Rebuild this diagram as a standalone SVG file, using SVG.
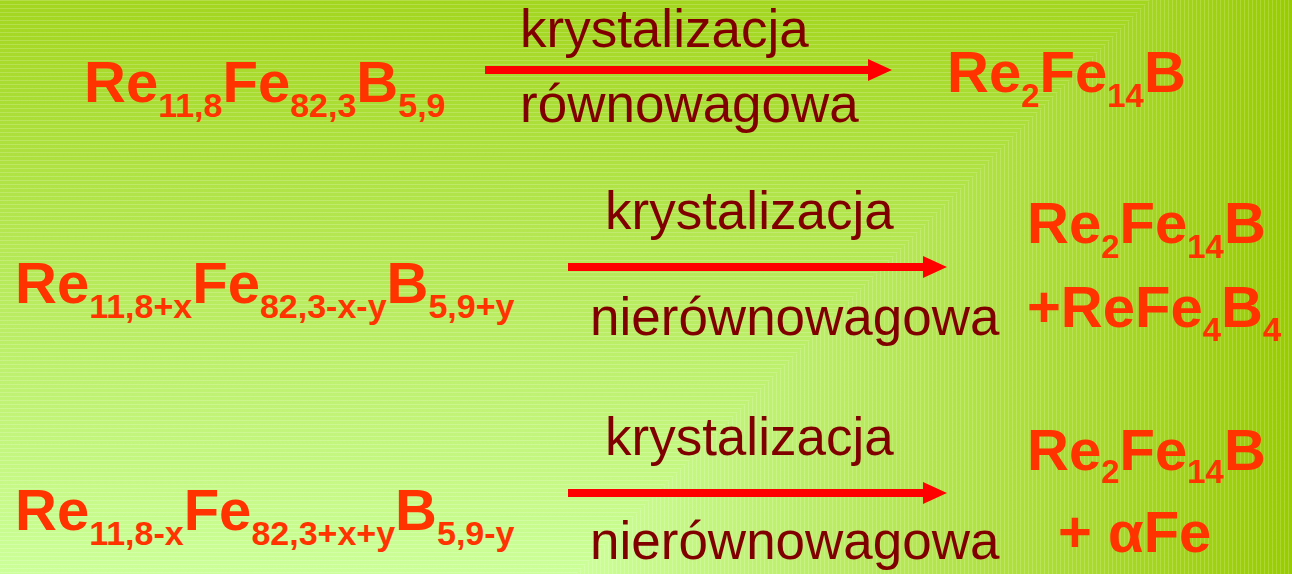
<svg xmlns="http://www.w3.org/2000/svg" width="1292" height="574" viewBox="0 0 1292 574">
  <defs>
    <linearGradient id="gV" gradientUnits="userSpaceOnUse" x1="0" y1="574" x2="0" y2="-142">
      <stop offset="0" stop-color="#ccff99"/>
      <stop offset="1" stop-color="#99cc00"/>
    </linearGradient>
    <linearGradient id="gH" gradientUnits="userSpaceOnUse" x1="576" y1="0" x2="1292" y2="0">
      <stop offset="0" stop-color="#ccff99"/>
      <stop offset="1" stop-color="#99cc00"/>
    </linearGradient>
    <pattern id="pH" width="8" height="4" patternUnits="userSpaceOnUse">
      <rect x="0" y="0" width="8" height="1" fill="#ffffff" fill-opacity="0.18"/>
    </pattern>
    <pattern id="pV" width="4" height="8" patternUnits="userSpaceOnUse">
      <rect x="0" y="0" width="1" height="8" fill="#ffffff" fill-opacity="0.18"/>
    </pattern>
    <marker id="head" markerUnits="userSpaceOnUse" markerWidth="24" markerHeight="22" refX="0" refY="11" orient="auto" viewBox="0 0 24 22">
      <path d="M0,0 L24,11 L0,22 z" fill="#ff0000"/>
    </marker>
  </defs>
  <style>
    .f { font-family: "Liberation Sans", Arial, sans-serif; font-weight: bold; font-size: 58px; fill: #ff3300; }
    .s { font-size: 34px; }
    .p { font-size: 33px; }
    .l { font-family: "Liberation Sans", Arial, sans-serif; font-size: 53px; fill: #800000; }
    .a { stroke: #ff0000; stroke-width: 8; fill: none; }
  </style>

  <g id="background">
    <rect x="0" y="0" width="1292" height="574" fill="url(#gV)"/>
    <rect x="0" y="0" width="1292" height="574" fill="url(#pH)"/>
    <polygon points="1150,0 1292,0 1292,574 576,574" fill="url(#gH)"/>
    <polygon points="1150,0 1292,0 1292,574 576,574" fill="url(#pV)"/>
  </g>

  <g id="connectors">
    <line class="a" x1="485" y1="70" x2="868" y2="70" marker-end="url(#head)"/>
    <line class="a" x1="568" y1="267" x2="923" y2="267" marker-end="url(#head)"/>
    <line class="a" x1="568" y1="493" x2="923" y2="493" marker-end="url(#head)"/>
  </g>

  <g id="reactant1">
    <text class="f" x="84" y="102">Re<tspan class="s" dy="15">11,8</tspan><tspan dy="-15">Fe</tspan><tspan class="s" dy="15">82,3</tspan><tspan dy="-15">B</tspan><tspan class="s" dy="15">5,9</tspan></text>
  </g>
  <g id="label1">
    <text class="l" x="520" y="47">krystalizacja</text>
    <text class="l" x="520" y="122">równowagowa</text>
  </g>
  <g id="product1">
    <text class="f" x="947" y="92">Re<tspan class="p" dy="15">2</tspan><tspan dy="-15">Fe</tspan><tspan class="p" dy="15">14</tspan><tspan dy="-15">B</tspan></text>
  </g>

  <g id="reactant2">
    <text class="f" x="15" y="303">Re<tspan class="s" dy="15">11,8+x</tspan><tspan dy="-15">Fe</tspan><tspan class="s" dy="15">82,3-x-y</tspan><tspan dy="-15">B</tspan><tspan class="s" dy="15">5,9+y</tspan></text>
  </g>
  <g id="label2">
    <text class="l" x="605" y="229">krystalizacja</text>
    <text class="l" x="590" y="335">nierównowagowa</text>
  </g>
  <g id="product2">
    <text class="f" x="1027" y="243">Re<tspan class="p" dy="15">2</tspan><tspan dy="-15">Fe</tspan><tspan class="p" dy="15">14</tspan><tspan dy="-15">B</tspan></text>
    <text class="f" x="1027" y="327">+ReFe<tspan class="p" dy="14">4</tspan><tspan dy="-14">B</tspan><tspan class="p" dy="14">4</tspan></text>
  </g>

  <g id="reactant3">
    <text class="f" x="15" y="530">Re<tspan class="s" dy="15">11,8-x</tspan><tspan dy="-15">Fe</tspan><tspan class="s" dy="15">82,3+x+y</tspan><tspan dy="-15">B</tspan><tspan class="s" dy="15">5,9-y</tspan></text>
  </g>
  <g id="label3">
    <text class="l" x="605" y="455">krystalizacja</text>
    <text class="l" x="590" y="559">nierównowagowa</text>
  </g>
  <g id="product3">
    <text class="f" x="1027" y="470">Re<tspan class="p" dy="13">2</tspan><tspan dy="-13">Fe</tspan><tspan class="p" dy="13">14</tspan><tspan dy="-13">B</tspan></text>
    <text class="f" x="1058" y="552">+ αFe</text>
  </g>
</svg>
